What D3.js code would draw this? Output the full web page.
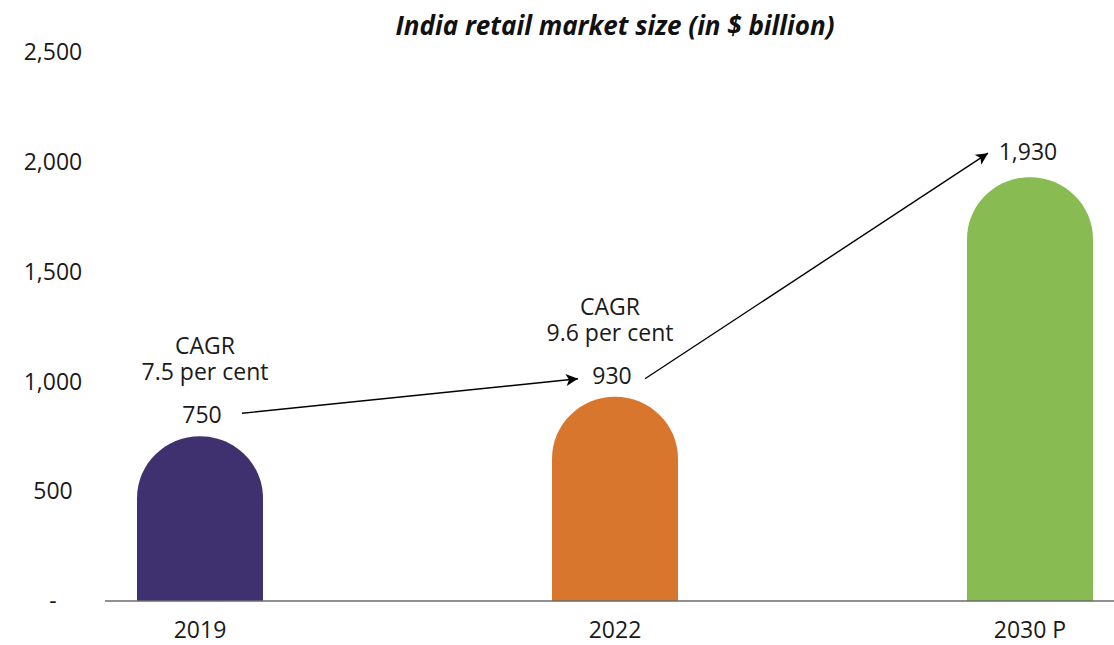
<!DOCTYPE html>
<html>
<head>
<meta charset="utf-8">
<script src="https://cdn.jsdelivr.net/npm/d3@7"></script>
<style>
  html, body { margin: 0; padding: 0; background: #fff; }
  svg { display: block; font-family: "Open Sans", "Noto Sans", sans-serif; }
</style>
</head>
<body>
<svg id="chart" width="1114" height="645"></svg>
<script>
// India retail market size, $ billion
const years = ["2019", "2022", "2030 P"];
const marketSize = [750, 930, 1930];
const valueLabels = ["750", "930", "1,930"];
const barColors = ["#3f3070", "#d8762e", "#88bb52"];
const yTicks = [0, 500, 1000, 1500, 2000, 2500];
const growthNotes = [["CAGR", "7.5 per cent"], ["CAGR", "9.6 per cent"]];
const title = "India retail market size (in $ billion)";

const W = 1114, H = 645;
const FS = 23;
const svg = d3.select("#chart");

const x = d3.scaleBand()
  .domain(years)
  .range([105, 1125])
  .paddingInner(0.6964)
  .paddingOuter(0.0771);

const y = d3.scaleLinear().domain([0, 2500]).range([601, 52]);

const fmt = v => v === 0 ? "-" : d3.format(",")(v);

// y tick labels (no gridlines)
svg.append("g").selectAll("text")
  .data(yTicks).join("text")
  .attr("x", 53)
  .attr("y", d => y(d))
  .attr("dy", "0.36em")
  .attr("text-anchor", "middle")
  .attr("font-size", FS)
  .attr("fill", "#1a1a1a")
  .text(fmt);

// bars with dome-shaped tops
function domeBar(x0, w, yTop, yBase, ry) {
  const rx = w / 2;
  const p = d3.path();
  p.moveTo(x0, yBase);
  p.lineTo(x0, yTop + ry);
  // elliptical top drawn with two cubic curves
  const k = 0.5523;
  p.bezierCurveTo(x0, yTop + ry - k * ry, x0 + rx - k * rx, yTop, x0 + rx, yTop);
  p.bezierCurveTo(x0 + rx + k * rx, yTop, x0 + w, yTop + ry - k * ry, x0 + w, yTop + ry);
  p.lineTo(x0 + w, yBase);
  p.closePath();
  return p.toString();
}

const bw = x.bandwidth();
svg.append("g").selectAll("path")
  .data(years).join("path")
  .attr("d", (d, i) => domeBar(x(d), bw, y(marketSize[i]), y(0), 62))
  .attr("fill", (d, i) => barColors[i]);

// baseline axis
svg.append("line")
  .attr("x1", 105).attr("x2", W)
  .attr("y1", y(0)).attr("y2", y(0))
  .attr("stroke", "#6b6b6b")
  .attr("stroke-width", 1.5);

// category labels
svg.append("g").selectAll("text")
  .data(years).join("text")
  .attr("x", d => x(d) + bw / 2)
  .attr("y", y(0) + 37)
  .attr("text-anchor", "middle")
  .attr("font-size", FS)
  .attr("fill", "#1a1a1a")
  .text(d => d);

// value labels
const labelOffset = [13, 13, 17];
const labelShift = [2, -3, -2];
const labelX = i => x(years[i]) + bw / 2 + labelShift[i];
const labelY = i => y(marketSize[i]) - labelOffset[i];

svg.append("g").selectAll("text")
  .data(years).join("text")
  .attr("x", (d, i) => labelX(i))
  .attr("y", (d, i) => labelY(i))
  .attr("text-anchor", "middle")
  .attr("font-size", FS)
  .attr("fill", "#1a1a1a")
  .text((d, i) => valueLabels[i]);

// CAGR notes above the first two value labels
const noteShift = [5, -5];
growthNotes.forEach((lines, i) => {
  const cx = x(years[i]) + bw / 2 + noteShift[i];
  const base = labelY(i);
  lines.forEach((ln, j) => {
    svg.append("text")
      .attr("x", cx)
      .attr("y", base - 69 + j * 26)
      .attr("text-anchor", "middle")
      .attr("font-size", FS)
      .attr("fill", "#1a1a1a")
      .text(ln);
  });
});

// arrows between value labels
svg.append("defs").append("marker")
  .attr("id", "arrowhead")
  .attr("viewBox", "0 0 10 10")
  .attr("refX", 10).attr("refY", 5)
  .attr("markerWidth", 16).attr("markerHeight", 12)
  .attr("markerUnits", "userSpaceOnUse")
  .attr("orient", "auto")
  .append("path")
  .attr("d", "M0,0 L10,5 L0,10 L2.5,5 Z")
  .attr("fill", "#000");

const arrows = [
  { from: 0, to: 1, sx: 40, sy: -10, ex: -34, ey: -5 },
  { from: 1, to: 2, sx: 33, sy: -5, ex: -40, ey: -7 }
];
svg.append("g").selectAll("line")
  .data(arrows).join("line")
  .attr("x1", a => labelX(a.from) + a.sx)
  .attr("y1", a => labelY(a.from) + a.sy)
  .attr("x2", a => labelX(a.to) + a.ex)
  .attr("y2", a => labelY(a.to) + a.ey)
  .attr("stroke", "#000")
  .attr("stroke-width", 1.4)
  .attr("marker-end", "url(#arrowhead)");

// title
svg.append("text")
  .attr("x", 615)
  .attr("y", 35)
  .attr("text-anchor", "middle")
  .attr("font-size", 26)
  .attr("font-weight", "bold")
  .attr("font-style", "italic")
  .attr("fill", "#111")
  .text(title);
</script>
</body>
</html>
